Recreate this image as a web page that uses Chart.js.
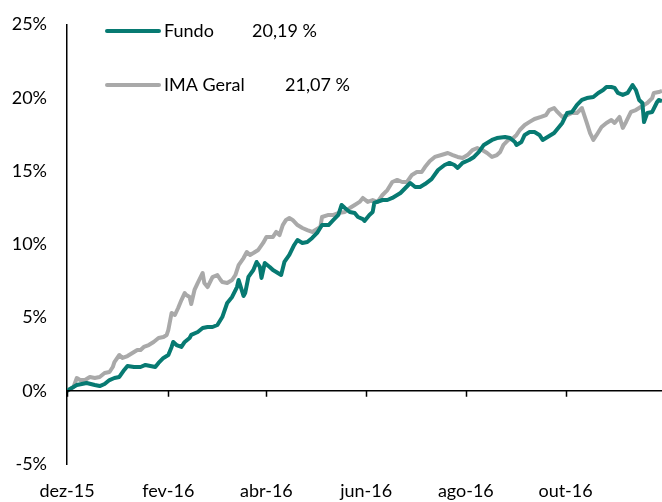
<!DOCTYPE html>
<html>
<head>
<meta charset="utf-8">
<script src="https://cdn.jsdelivr.net/npm/chart.js@4/dist/chart.umd.min.js"></script>
<style>
html,body{margin:0;padding:0;background:#fff;}
#wrap{width:662px;height:502px;}
</style>
</head>
<body>
<div id="wrap"><canvas id="c" width="662" height="502"></canvas></div>
<script>
// x values are days since 1 Dec 2015
const fundoDays = [0,6,12,17,20,23,26,29,32,35,37,41,45,48,51,54,56,59,62,64,65,67,70,72,75,76,80,83,86,89,92,95,98,101,104,105,108,109,111,114,116,118,119,121,124,126,128,131,133,136,139,141,144,147,150,153,156,160,163,166,168,170,173,176,178,181,182,185,187,188,193,196,199,202,204,207,210,213,216,219,223,227,231,234,237,239,242,246,249,252,255,260,263,268,271,274,275,278,280,283,286,289,291,294,298,303,306,309,312,315,318,322,325,328,330,333,335,337,340,343,346,348,350,352,353,355,358,361,362,364];
const fundoValues = [0.00,0.39,0.53,0.39,0.32,0.46,0.73,0.87,0.94,1.42,1.69,1.62,1.62,1.76,1.69,1.62,1.90,2.24,2.44,2.99,3.33,3.12,2.99,3.33,3.60,3.81,4.01,4.28,4.35,4.35,4.49,5.03,5.99,6.40,7.08,7.56,6.47,6.67,7.77,8.24,8.79,8.45,7.70,8.72,8.45,8.24,8.11,7.90,8.79,9.27,9.95,10.29,10.09,10.15,10.43,10.77,11.31,11.31,11.66,12.00,12.68,12.47,12.20,12.13,11.86,11.72,11.59,12.00,12.20,12.82,13.02,13.02,13.16,13.36,13.50,13.84,14.18,13.91,13.91,14.11,14.45,15.07,15.41,15.55,15.41,15.21,15.55,15.75,15.96,16.30,16.78,17.12,17.25,17.32,17.25,16.98,16.78,16.98,17.46,17.66,17.66,17.46,17.12,17.32,17.59,18.28,18.96,19.03,19.51,19.85,19.98,20.05,20.33,20.53,20.73,20.73,20.67,20.33,20.19,20.33,20.87,20.53,19.85,19.64,18.34,18.96,19.03,19.71,19.85,19.78];
const imaDays = [0,4,6,8,11,14,17,20,23,26,28,29,32,34,37,40,43,45,47,50,53,56,59,61,62,64,66,68,70,72,73,75,76,78,80,83,84,86,89,92,94,95,98,101,103,105,108,110,112,114,117,120,122,126,128,130,132,134,136,138,141,144,147,150,155,156,160,163,166,170,173,176,179,181,184,187,190,193,196,199,202,205,208,211,214,217,219,222,225,229,233,236,239,242,245,248,251,254,257,260,263,265,267,270,273,275,277,280,283,286,290,293,295,298,300,303,306,309,312,315,318,320,322,324,327,330,333,335,338,340,342,345,348,351,355,358,359,362,364];
const imaValues = [0.00,0.26,0.87,0.73,0.73,0.94,0.87,0.94,1.21,1.28,1.62,1.96,2.44,2.24,2.37,2.58,2.78,2.78,2.99,3.12,3.33,3.60,3.67,3.81,4.15,5.31,5.17,5.65,6.19,6.67,6.54,6.40,5.92,6.88,7.36,8.04,7.36,7.08,7.76,7.90,7.56,7.42,7.36,7.56,7.90,8.58,9.06,9.47,9.27,9.40,9.61,10.09,10.50,10.50,10.84,10.63,11.31,11.66,11.79,11.66,11.31,11.11,10.97,10.84,11.18,11.86,12.00,12.00,12.13,12.20,12.47,12.68,12.89,13.16,12.89,13.02,12.89,13.36,13.70,14.25,14.39,14.25,14.25,14.73,14.93,14.93,15.27,15.68,15.96,16.09,16.23,16.09,15.96,15.89,16.09,16.43,16.57,16.43,16.23,15.96,16.09,16.30,16.78,17.12,17.25,17.46,17.80,18.14,18.35,18.55,18.69,18.82,19.16,19.30,19.03,18.69,18.82,18.96,18.96,19.30,18.28,17.59,17.12,17.46,18.00,18.28,18.48,18.28,18.69,17.94,18.35,19.03,19.16,19.37,19.64,19.98,20.33,20.39,20.46];
const seriesNames = ['Fundo', 'IMA Geral'];
const legendValues = ['20,19 %', '21,07 %'];
const tickDays = [0, 62, 122, 183, 244, 305];
const tickLabels = ['dez-15', 'fev-16', 'abr-16', 'jun-16', 'ago-16', 'out-16'];
const yTicks = [-5, 0, 5, 10, 15, 20, 25];

const TEAL = '#077a72';
const GRAY = '#a9a9a9';
const FONT = 'Lato, "Open Sans", sans-serif';
const FSIZE = 18;

const zeroAxisPlugin = {
  id: 'zeroAxis',
  afterDatasetsDraw(chart) {
    const {ctx, chartArea, scales} = chart;
    const y0 = scales.y.getPixelForValue(0);
    ctx.save();
    ctx.strokeStyle = '#000';
    ctx.lineWidth = 1.5;
    ctx.beginPath();
    ctx.moveTo(chartArea.left, y0);
    ctx.lineTo(chartArea.right, y0);
    scales.x.ticks.forEach(t => {
      const px = Math.round(scales.x.getPixelForValue(t.value)) + 0.5;
      ctx.moveTo(px, y0);
      ctx.lineTo(px, y0 + 6);
    });
    ctx.stroke();
    ctx.restore();
  }
};

const legendPlugin = {
  id: 'customLegend',
  afterDraw(chart) {
    const {ctx} = chart;
    const colors = [TEAL, GRAY];
    const rows = [31, 85];
    const valueX = [252, 285];
    ctx.save();
    ctx.font = FSIZE + 'px ' + FONT;
    ctx.textBaseline = 'middle';
    ctx.fillStyle = '#000';
    seriesNames.forEach((n, i) => {
      ctx.strokeStyle = colors[i];
      ctx.lineWidth = 4;
      ctx.lineCap = 'round';
      ctx.beginPath();
      ctx.moveTo(107, rows[i]);
      ctx.lineTo(159, rows[i]);
      ctx.stroke();
      ctx.fillText(n, 164, rows[i]);
      ctx.fillText(legendValues[i], valueX[i], rows[i]);
    });
    ctx.restore();
  }
};

new Chart(document.getElementById('c'), {
  type: 'line',
  data: {
    datasets: [
      {label: seriesNames[0], data: fundoDays.map((d, i) => ({x: d, y: fundoValues[i]})), borderColor: TEAL, borderWidth: 4, pointRadius: 0, tension: 0, borderJoinStyle: 'round', order: 1},
      {label: seriesNames[1], data: imaDays.map((d, i) => ({x: d, y: imaValues[i]})), borderColor: GRAY, borderWidth: 4, pointRadius: 0, tension: 0, borderJoinStyle: 'round', order: 2}
    ]
  },
  options: {
    responsive: false,
    animation: false,
    devicePixelRatio: 1,
    layout: {padding: {top: 24.5, right: 0, bottom: 0, left: 0}},
    plugins: {legend: {display: false}, tooltip: {enabled: false}},
    scales: {
      x: {
        type: 'linear', min: 0, max: 364,
        afterBuildTicks(s) { s.ticks = tickDays.map(v => ({value: v})); },
        afterFit(s) { s.height = 38; },
        grid: {display: false, drawTicks: false},
        border: {display: false},
        ticks: {
          padding: 16, maxRotation: 0, autoSkip: false, color: '#000',
          font: {family: FONT, size: FSIZE},
          callback: (v) => tickLabels[tickDays.indexOf(v)]
        }
      },
      y: {
        min: -5, max: 25,
        afterBuildTicks(s) { s.ticks = yTicks.map(v => ({value: v})); },
        afterFit(s) { s.width = 67; s.paddingTop = 0; s.paddingBottom = 0; },
        grid: {display: false, drawTicks: false},
        border: {display: true, color: '#000', width: 1.5},
        ticks: {
          padding: 20, color: '#000',
          font: {family: FONT, size: FSIZE},
          callback: (v) => v + '%'
        }
      }
    }
  },
  plugins: [zeroAxisPlugin, legendPlugin]
});
</script>
</body>
</html>
